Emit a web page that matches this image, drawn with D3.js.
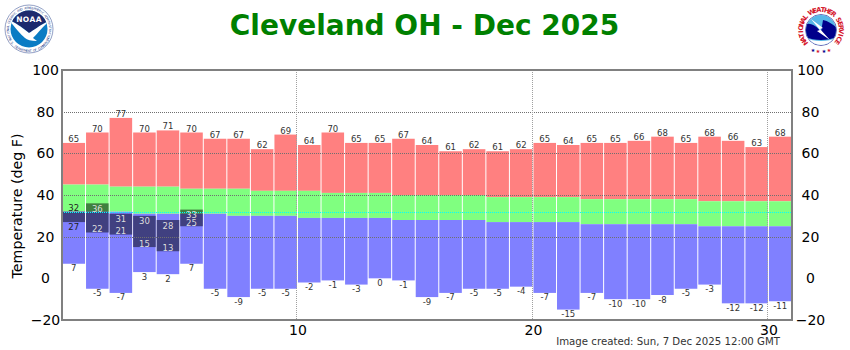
<!DOCTYPE html>
<html lang="en">
<head>
<meta charset="UTF-8">
<title>Cleveland OH - Dec 2025</title>
<script src="https://d3js.org/d3.v7.min.js"></script>
<style>
    html, body { margin: 0; padding: 0; background: #fff; }
    svg { display: block; font-family: "DejaVu Sans", sans-serif; }
</style>
</head>
<body>
<div id="chart"></div>
<script>
// values (deg F), one entry per day of the month
const days = d3.range(1, 32);
const recordHigh = [65,70,77,70,71,70,67,67,62,69,64,70,65,65,67,64,61,62,61,62,65,64,65,65,66,68,65,68,66,63,68];
const recordLow = [7,-5,-7,3,2,7,-5,-9,-5,-5,-2,-1,-3,0,-1,-9,-7,-5,-5,-4,-7,-15,-7,-10,-10,-8,-5,-3,-12,-12,-11];
const normalHigh = [45,45,44,44,44,43,43,43,42,42,42,41,41,41,40,40,40,40,39,39,39,39,38,38,38,38,38,37,37,37,37];
const normalLow = [32,32,32,31,31,31,31,30,30,30,29,29,29,29,28,28,28,28,27,27,27,27,26,26,26,26,26,25,25,25,25];
// observed so far this month
const obsHigh = [32,36,31,30,28,33];
const obsLow = [27,22,21,15,13,25];
const yTicks = [-20,0,20,40,60,80,100];
const xTicks = [10,20,30];
const gridTemps = [20,40,60,80];
const freezing = 32;

const width = 850, height = 350;
const margin = {top: 70, right: 58, bottom: 30, left: 62};

const svg = d3.select("#chart").append("svg").attr("width", width).attr("height", height);

const x = d3.scaleLinear().domain([0, 31]).range([margin.left, width - margin.right]);
const y = d3.scaleLinear().domain([-20, 100]).range([height - margin.bottom, margin.top]);

// a day fills the slot between d-1 and d, with a 1px gap
const barX = d => x(d - 1) + 0.5;
const barW = x(1) - x(0) - 1;

function band(cls, color, topFn, bottomFn, data) {
    svg.append("g").attr("class", cls).selectAll("rect")
        .data(data || days)
        .join("rect")
        .attr("x", barX)
        .attr("width", barW)
        .attr("y", d => y(topFn(d)))
        .attr("height", d => Math.max(0, y(bottomFn(d)) - y(topFn(d))))
        .attr("fill", color);
}

band("record-high", "#ff8080", d => recordHigh[d-1], d => normalHigh[d-1]);
band("normal", "#80ff80", d => normalHigh[d-1], d => normalLow[d-1]);
band("record-low", "#8080ff", d => normalLow[d-1], d => recordLow[d-1]);

// observed bars, dark green above the normal low and dark blue below it
const obsDays = days.slice(0, obsHigh.length);
band("obs-above", "#408040", d => obsHigh[d-1], d => Math.max(obsLow[d-1], Math.min(obsHigh[d-1], normalLow[d-1])), obsDays);
band("obs-below", "#404080", d => Math.min(obsHigh[d-1], normalLow[d-1]), d => obsLow[d-1], obsDays);

// grid sits on top of the bars
svg.append("g").selectAll("line").data(gridTemps).join("line")
    .attr("x1", x(0)).attr("x2", x(31))
    .attr("y1", d => Math.round(y(d)) + 0.5).attr("y2", d => Math.round(y(d)) + 0.5)
    .attr("stroke", "#707070").attr("stroke-dasharray", "1 1");

svg.append("g").selectAll("line").data(xTicks).join("line")
    .attr("x1", d => Math.round(x(d)) - 0.5).attr("x2", d => Math.round(x(d)) - 0.5)
    .attr("y1", y(100)).attr("y2", y(-20))
    .attr("stroke", "#a0a0a0").attr("stroke-dasharray", "1 1");

svg.append("line")
    .attr("x1", x(0)).attr("x2", x(31))
    .attr("y1", Math.round(y(freezing)) + 0.5).attr("y2", Math.round(y(freezing)) + 0.5)
    .attr("stroke", "#00ffff").attr("stroke-dasharray", "1 1");

// frame
svg.append("rect")
    .attr("x", x(0)).attr("y", y(100))
    .attr("width", x(31) - x(0)).attr("height", y(-20) - y(100))
    .attr("fill", "none").attr("stroke", "#808080").attr("stroke-width", 2);

// value labels
const labels = svg.append("g").attr("font-size", 8.5).attr("text-anchor", "middle");
const midX = d => x(d - 0.5);

labels.selectAll(".hi").data(days).join("text").attr("class", "hi")
    .attr("x", midX).attr("y", d => y(recordHigh[d-1]) - 1)
    .attr("fill", "#333").text(d => recordHigh[d-1]);
labels.selectAll(".lo").data(days).join("text").attr("class", "lo")
    .attr("x", midX).attr("y", d => y(recordLow[d-1]) + 7.5)
    .attr("fill", "#333").text(d => recordLow[d-1]);

// short bars get their labels outside, the rest inside in a light colour
const isShort = d => obsHigh[d-1] - obsLow[d-1] < 6;
labels.selectAll(".obs-hi").data(obsDays).join("text").attr("class", "obs-hi")
    .attr("x", midX)
    .attr("y", d => isShort(d) ? y(obsHigh[d-1]) - 1 : y(obsHigh[d-1]) + 8.5)
    .attr("fill", d => isShort(d) ? "#222" : "#ddd").text(d => obsHigh[d-1]);
labels.selectAll(".obs-lo").data(obsDays).join("text").attr("class", "obs-lo")
    .attr("x", midX)
    .attr("y", d => isShort(d) ? y(obsLow[d-1]) + 8 : y(obsLow[d-1]) - 0.5)
    .attr("fill", d => isShort(d) ? "#222" : "#ddd").text(d => obsLow[d-1]);

// axes, the left and right temperature labels are centred on a column
function styleAxis(g) {
    g.select(".domain").remove();
    g.selectAll(".tick line").remove();
    g.selectAll("text").attr("font-size", 14).attr("font-family", "DejaVu Sans").attr("fill", "#000");
}
function tempAxis(cx) {
    svg.append("g").attr("transform", `translate(${cx},0)`)
        .call(d3.axisLeft(y).tickValues(yTicks).tickSize(0).tickPadding(0))
        .call(styleAxis)
        .call(g => g.selectAll("text").attr("text-anchor", "middle").attr("x", 0));
}
tempAxis(45.5);
tempAxis(810.5);
svg.append("g").attr("transform", `translate(0,${height - margin.bottom + 5})`)
    .call(d3.axisBottom(x).tickValues(xTicks).tickFormat(d3.format("d")).tickSize(0).tickPadding(0)).call(styleAxis);

// titles
svg.append("text").attr("x", 424.5).attr("y", 35).attr("text-anchor", "middle")
    .attr("font-size", 28).attr("font-weight", "bold").attr("fill", "#008000")
    .attr("font-family", "DejaVu Sans").text("Cleveland OH - Dec 2025");
svg.append("text").attr("transform", "translate(22,206) rotate(-90)").attr("text-anchor", "middle")
    .attr("font-size", 14.2).attr("fill", "#000").text("Temperature (deg F)");
svg.append("text").attr("x", 780).attr("y", 345).attr("text-anchor", "end")
    .attr("font-size", 10.2).attr("fill", "#333").text("Image created: Sun, 7 Dec 2025 12:00 GMT");

// lays a string round a circle letter by letter. angle 0 is the top, clockwise
function ringText(g, str, r, startDeg, stepDeg, size, fill, weight, below) {
    g.append("g").selectAll("text").data(Array.from(str)).join("text")
        .attr("text-anchor", "middle")
        .attr("font-size", size)
        .attr("font-weight", weight)
        .attr("fill", fill)
        .attr("transform", (c, i) => {
            const a = below ? startDeg - i * stepDeg : startDeg + i * stepDeg;
            return below ? `rotate(${a}) translate(0,${-r}) rotate(180)` : `rotate(${a}) translate(0,${-r})`;
        })
        .text(c => c);
}

// NOAA logo
const defs = svg.append("defs");
const noaa = svg.append("g").attr("transform", "translate(29,29)");
defs.append("clipPath").attr("id", "noaaClip").append("circle").attr("r", 18.5);
noaa.append("circle").attr("r", 24).attr("fill", "#fff").attr("stroke", "#27408b").attr("stroke-width", 0.5);
const noaaInner = noaa.append("g").attr("clip-path", "url(#noaaClip)");
noaaInner.append("rect").attr("x", -19).attr("y", -19).attr("width", 38).attr("height", 38).attr("fill", "#0a7cc4");
noaaInner.append("path").attr("fill", "#1c2a6e").attr("d", "M-19,-19 H19 V-8 C11,-4 5,1 0,4 C-5,0 -11,-5 -19,-9 Z");
noaaInner.append("path").attr("fill", "#fff").attr("d", "M-20,-9 C-11,-5 -5,0 0,4 C5,1 11,-4 20,-8 C12,0 8,5 4,9 L8,12 C2,12 -2,11 -4,9 C-9,5 -14,-2 -20,-9 Z");
noaa.append("text").attr("y", -7).attr("text-anchor", "middle").attr("font-size", 7.5)
    .attr("font-weight", "bold").attr("fill", "#fff").attr("letter-spacing", 0.4).text("NOAA");
ringText(noaa, "NATIONAL OCEANIC AND ATMOSPHERIC ADMINISTRATION", 20, -118, 5.13, 3.1, "#27408b", "normal", false);
ringText(noaa, "U.S. DEPARTMENT OF COMMERCE", 23, 60 + 180, 4.6, 3.1, "#27408b", "normal", true);

// NWS logo
const nws = svg.append("g").attr("transform", "translate(821,30)");
defs.append("clipPath").attr("id", "nwsClip").append("circle").attr("r", 15);
nws.append("circle").attr("r", 15.5).attr("fill", "#fff").attr("stroke", "#000080").attr("stroke-width", 0.6);
const nwsInner = nws.append("g").attr("clip-path", "url(#nwsClip)");
nwsInner.append("rect").attr("x", -16).attr("y", -16).attr("width", 32).attr("height", 32).attr("fill", "#58b7e8");
nwsInner.append("path").attr("fill", "#00008b").attr("d", "M-15,-6 C-8,-7 -4,-3 0,2 L2,-10 C7,-9 11,-6 15,-3 V7 C8,11 -8,11 -15,7 Z");
nwsInner.append("path").attr("fill", "#fff").attr("d", "M-10,-11 L2,-2 L-1,-1 L9,10 L-4,1 L-1,0 Z");
nwsInner.append("path").attr("fill", "#fff").attr("d", "M-15,8 C-8,12 8,12 15,8 V16 H-15 Z");
ringText(nws, "NATIONAL WEATHER SERVICE", 18, -128, 11.1, 6.6, "#d4142a", "bold", false);
nws.selectAll(".star").data([-8, -3, 3, 8]).join("text").attr("class", "star")
    .attr("x", d => d).attr("y", d => 23.5 - Math.abs(d) * 0.25)
    .attr("text-anchor", "middle").attr("font-size", 5)
    .attr("fill", (d, i) => i % 2 ? "#d4142a" : "#00008b").text("★");
</script>
</body>
</html>
